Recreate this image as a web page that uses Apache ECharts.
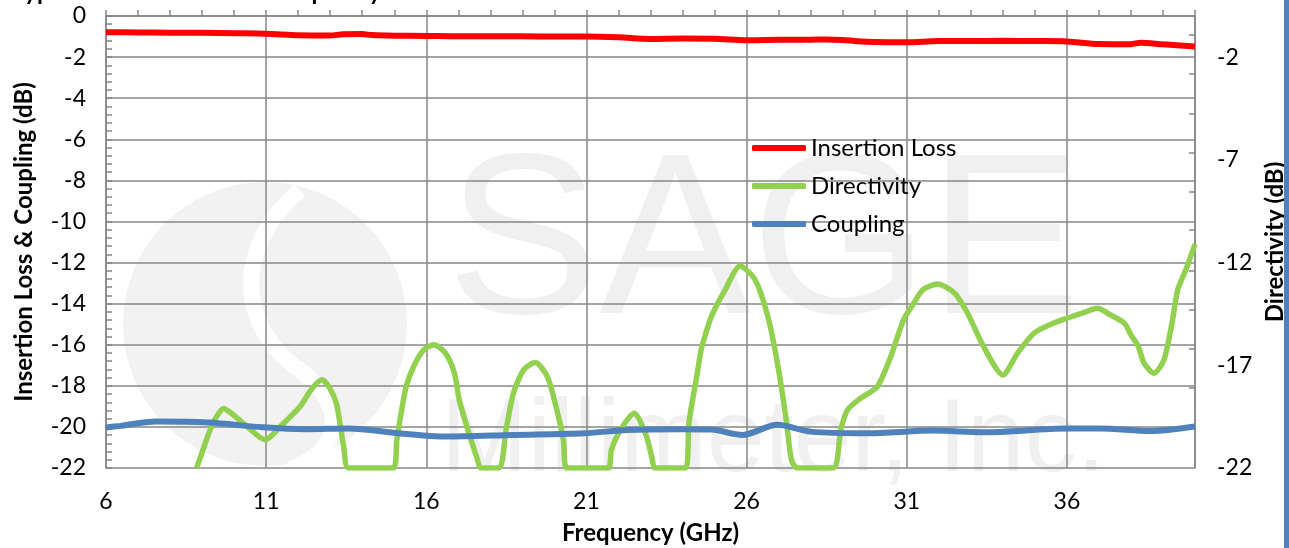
<!DOCTYPE html>
<html>
<head>
<meta charset="utf-8">
<script src="https://cdn.jsdelivr.net/npm/echarts@6/dist/echarts.min.js"></script>
<style>
html,body{margin:0;padding:0;background:#fff;}
#chart{width:1289px;height:548px;}
</style>
</head>
<body>
<div id="chart"></div>
<script>
// ---- data (frequency GHz, dB) ----
const seriesNames = ['Insertion Loss', 'Directivity', 'Coupling'];
const xTicksStart = 6, xTicksEnd = 40, xTickStep = 5;
const leftTickStep = 2, rightTickStep = 5;
const rightMinorTicks = [-20.0, -18.1, -16.2, -14.3, -12.4, -10.4, -8.55, -6.65, -4.75, -2.8, -0.9];

const insertionLoss = [
  [6,-0.79],[7,-0.8],[8,-0.81],[9,-0.82],[10,-0.84],[11,-0.86],[11.5,-0.9],[12,-0.94],[13,-0.95],
  [13.4,-0.89],[14,-0.88],[14.3,-0.93],[15,-0.96],[16,-0.97],[17,-0.99],[18,-0.99],[19,-0.99],
  [20,-1.0],[21,-1.0],[22,-1.04],[23,-1.12],[24,-1.1],[25,-1.11],[26,-1.18],[27,-1.16],
  [28,-1.15],[28.5,-1.14],[29,-1.17],[30,-1.27],[31,-1.28],[32,-1.22],[33,-1.22],[34,-1.21],
  [35,-1.22],[36,-1.24],[37,-1.36],[38,-1.37],[38.3,-1.3],[39,-1.38],[40,-1.48]
];

const directivity = [
  [8.83,-22],[8.99,-21.28],[9.25,-20.15],[9.45,-19.5],[9.67,-19.1],[9.98,-19.42],[10.4,-19.98],
  [10.97,-20.63],[11.44,-19.98],[12.06,-19.01],[12.4,-18.2],[12.74,-17.71],[12.98,-18.1],
  [13.2,-18.9],[13.42,-20.96],[13.58,-22],[14.97,-22],[15.08,-20.63],[15.25,-19.01],
  [15.37,-18.04],[15.6,-17.07],[15.92,-16.25],[16.24,-16.0],[16.6,-16.41],[16.88,-17.39],
  [17.03,-18.7],[17.3,-20.15],[17.6,-21.6],[17.7,-22],[18.27,-22],[18.49,-20.15],
  [18.72,-18.36],[19.05,-17.2],[19.4,-16.87],[19.78,-17.55],[20.05,-19.01],[20.28,-20.63],
  [20.39,-22],[21.67,-22],[21.78,-21.12],[22.06,-20.15],[22.49,-19.33],[22.84,-20.3],
  [23.06,-21.6],[23.13,-22],[24.1,-22],[24.2,-19.8],[24.46,-17.39],[24.56,-16.41],
  [24.62,-16.0],[24.9,-14.63],[25.33,-13.33],[25.8,-12.17],[26.27,-12.85],[26.69,-14.79],
  [27.0,-17.23],[27.25,-19.8],[27.4,-21.6],[27.58,-22],[28.7,-22],[28.94,-20.15],
  [29.15,-19.17],[29.56,-18.6],[30.08,-18.04],[30.5,-16.58],[30.9,-14.79],[31.22,-13.98],
  [31.5,-13.33],[31.96,-13.04],[32.5,-13.5],[32.9,-14.47],[33.4,-16.09],[34.0,-17.47],
  [34.46,-16.41],[34.97,-15.44],[35.5,-15.0],[36.0,-14.71],[36.5,-14.45],[36.96,-14.23],
  [37.36,-14.55],[37.8,-14.96],[38.0,-15.52],[38.23,-16.09],[38.41,-16.9],[38.72,-17.39],
  [39.03,-16.74],[39.28,-14.96],[39.46,-13.33],[39.71,-12.36],[40,-11.1]
];

const coupling = [
  [6,-20.03],[6.44,-19.95],[7.55,-19.74],[9.2,-19.79],[10.9,-20.02],[12.24,-20.11],
  [13.58,-20.08],[15.14,-20.31],[16.6,-20.47],[18.72,-20.39],[20.94,-20.31],[22.28,-20.15],
  [23.9,-20.11],[24.9,-20.13],[25.87,-20.39],[26.96,-19.9],[28.0,-20.23],[29.77,-20.31],
  [31.85,-20.18],[33.4,-20.26],[36.0,-20.08],[37.06,-20.08],[38.6,-20.2],[40,-19.98]
];

const labelFont = 'Lato, "Liberation Sans", sans-serif';
const gridColor = '#878787';

const chart = echarts.init(document.getElementById('chart'), null, {renderer: 'canvas'});
const option = {
  backgroundColor: '#ffffff',
  animation: false,
  textStyle: {fontFamily: labelFont},
  grid: {left: 106, right: 94, top: 16, bottom: 80, containLabel: false, outerBoundsMode: 'none'},
  legend: {
    left: 747, top: 131, orient: 'vertical',
    itemWidth: 54, itemHeight: 6, itemGap: 14, icon: 'roundRect',
    textStyle: {fontSize: 24, color: '#000', fontFamily: labelFont, lineHeight: 24},
    data: seriesNames
  },
  graphic: [
    {type: 'circle', z: -100, shape: {cx: 265, cy: 324, r: 142}, style: {fill: '#f2f2f2'}, silent: true},
    {type: 'bezierCurve', z: -99, silent: true,
     shape: {x1: 300, y1: 190, cpx1: 230, cpy1: 250, cpx2: 240, cpy2: 330, x2: 300, y2: 370},
     style: {fill: null, stroke: '#ffffff', lineWidth: 16}},
    {type: 'bezierCurve', z: -99, silent: true,
     shape: {x1: 300, y1: 370, cpx1: 350, cpy1: 410, cpx2: 340, cpy2: 450, x2: 290, y2: 470},
     style: {fill: null, stroke: '#ffffff', lineWidth: 16}},
    {type: 'text', z: -98, silent: true, x: 447, y: 364,
     style: {text: 'SAGE', font: '228px "Liberation Sans", sans-serif', fill: '#f0f0f0', verticalAlign: 'bottom', align: 'left'}},
    {type: 'text', z: -98, silent: true, x: 441, y: 494,
     style: {text: 'Millimeter, Inc.', font: '104px "Liberation Sans", sans-serif', fill: '#f0f0f0', verticalAlign: 'bottom', align: 'left'}},
    {type: 'text', z: 10, silent: true, x: 12, y: 4,
     style: {text: 'Typical Performance vs. Frequency', font: 'bold 24px ' + labelFont, fill: '#000', verticalAlign: 'bottom', align: 'left'}},
    {type: 'rect', z: 10, silent: true, shape: {x: 1284, y: 0, width: 5, height: 548}, style: {fill: '#4f81bd'}}
  ],
  xAxis: {
    type: 'value', min: xTicksStart, max: xTicksEnd, interval: xTickStep,
    name: 'Frequency (GHz)', nameLocation: 'middle', nameGap: 53,
    nameTextStyle: {fontSize: 24, fontWeight: 'bold', color: '#000', fontFamily: labelFont},
    axisLine: {show: true, lineStyle: {color: gridColor, width: 1.5}},
    axisTick: {show: true, inside: true, length: 6, lineStyle: {color: gridColor, width: 1.5}},
    minorTick: {show: true, splitNumber: 5, length: 6, lineStyle: {color: gridColor, width: 1.5}},
    splitLine: {show: true, lineStyle: {color: gridColor, width: 1.5}},
    axisLabel: {fontSize: 23, color: '#000', margin: 22, showMaxLabel: false, fontFamily: labelFont}
  },
  yAxis: [
    {
      type: 'value', min: -22, max: 0, interval: leftTickStep, position: 'left',
      name: 'Insertion Loss & Coupling (dB)', nameLocation: 'middle', nameGap: 70, nameRotate: 90,
      nameTextStyle: {fontSize: 24, fontWeight: 'bold', color: '#000', fontFamily: labelFont},
      axisLine: {show: true, lineStyle: {color: gridColor, width: 1.5}},
      axisTick: {show: true, inside: true, length: 6, lineStyle: {color: gridColor, width: 1.5}},
      minorTick: {show: true, splitNumber: 5, length: 6, lineStyle: {color: gridColor, width: 1.5}},
      splitLine: {show: true, lineStyle: {color: gridColor, width: 1.5}},
      axisLabel: {fontSize: 23, color: '#000', margin: 20, fontFamily: labelFont}
    },
    {
      type: 'value', min: -22, max: 0, interval: rightTickStep, position: 'right',
      name: 'Directivity (dB)', nameLocation: 'middle', nameGap: 52, nameRotate: 90,
      nameTextStyle: {fontSize: 24, fontWeight: 'bold', color: '#000', fontFamily: labelFont},
      axisLine: {show: true, lineStyle: {color: gridColor, width: 1.5}},
      axisTick: {show: true, inside: true, length: 6, customValues: rightMinorTicks, lineStyle: {color: gridColor, width: 1.5}},
      splitLine: {show: false},
      axisLabel: {fontSize: 23, color: '#000', margin: 22, showMaxLabel: false, fontFamily: labelFont}
    }
  ],
  series: [
    {name: seriesNames[0], type: 'line', yAxisIndex: 0, data: insertionLoss, showSymbol: false, smooth: 0.3,
     lineStyle: {color: '#ff0000', width: 6}, itemStyle: {color: '#ff0000'}, z: 5, clip: true},
    {name: seriesNames[1], type: 'line', yAxisIndex: 1, data: directivity, showSymbol: false, smooth: 0.25,
     lineStyle: {color: '#92d050', width: 5.5}, itemStyle: {color: '#92d050'}, z: 4, clip: true},
    {name: seriesNames[2], type: 'line', yAxisIndex: 0, data: coupling, showSymbol: false, smooth: 0.3,
     lineStyle: {color: '#4f81bd', width: 6}, itemStyle: {color: '#4f81bd'}, z: 5, clip: true}
  ]
};
chart.setOption(option);
</script>
</body>
</html>
